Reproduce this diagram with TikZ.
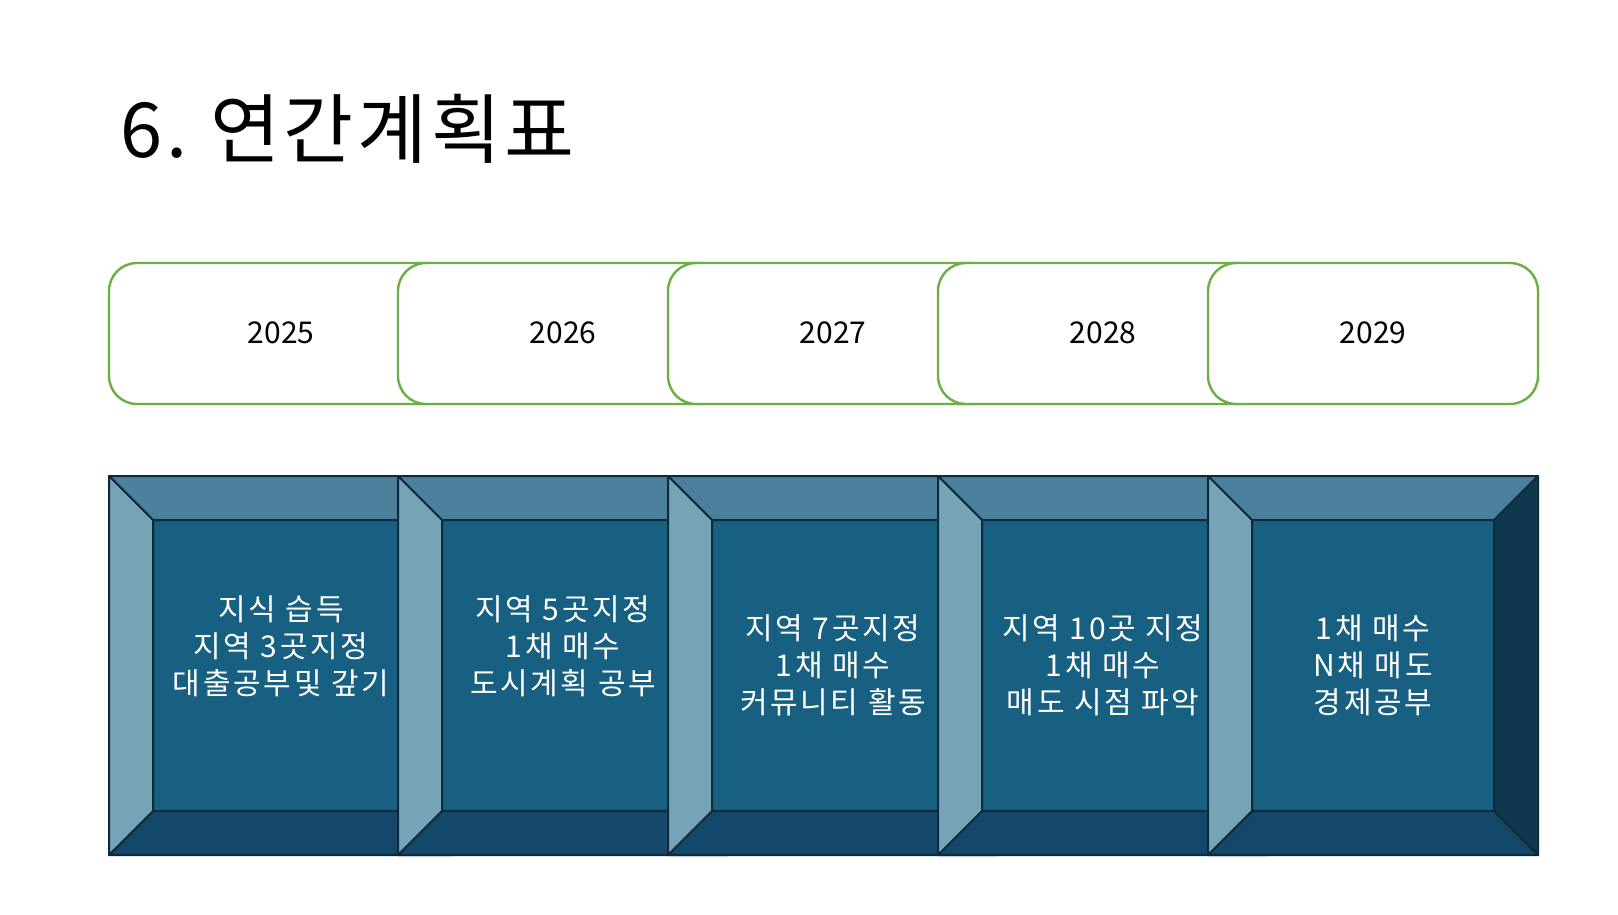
\documentclass[tikz,border=0pt]{standalone}
\usepackage{fontspec}
\setmainfont{Noto Sans CJK KR}
\newfontfamily\bodyfont[LetterSpace=9]{Noto Sans CJK KR}
\newfontfamily\titlefont[LetterSpace=5]{Noto Sans CJK KR}
\definecolor{grn}{HTML}{6AAE45}
\definecolor{face}{HTML}{176082}
\definecolor{btop}{HTML}{4A809C}
\definecolor{bleft}{HTML}{77A3B6}
\definecolor{bbot}{HTML}{14486A}
\definecolor{bright}{HTML}{0D384E}
\definecolor{bline}{HTML}{0B2A3A}
\tikzset{
  yearbox/.style={draw=grn, line width=2.4pt, fill=white, rounded corners=28pt},
  yeartext/.style={font=\fontsize{30}{36}\selectfont, text=black},
  bevline/.style={draw=bline, line width=2pt, line join=round},
  bodytext/.style={font=\bodyfont\fontsize{30}{37}\selectfont, text=white, align=center},
}
\newcommand{\yearbox}[4]{% name, left, right, label
  \draw[yearbox] (#2,263) rectangle (#3,404);
  \node[yeartext] (#1) at ({(#2+#3)/2},333) {#4};
}
\newcommand{\bevbox}[5]{% name, left, right, textY, text
  \pgfmathsetmacro{\il}{#2+44}\pgfmathsetmacro{\ir}{#3-44}
  \fill[face] (\il,520) rectangle (\ir,811);
  \draw[bevline, fill=btop] (#2,476) -- (#3,476) -- (\ir,520) -- (\il,520) -- cycle;
  \draw[bevline, fill=bbot] (#2,855) -- (#3,855) -- (\ir,811) -- (\il,811) -- cycle;
  \draw[bevline, fill=bleft] (#2,476) -- (#2,855) -- (\il,811) -- (\il,520) -- cycle;
  \draw[bevline] (\il,520) rectangle (\ir,811);
  \node[bodytext] (#1) at ({(#2+#3)/2},#4) {#5};
}
\begin{document}
\begin{tikzpicture}[x=1pt,y=-1pt]
\useasboundingbox[fill=white] (0,0) rectangle (1618,914);
\node[anchor=west, font=\titlefont\fontsize{76}{80}\selectfont, inner sep=0pt] (title) at (120,129) {6.\hspace{0.3em}연간계획표};
\yearbox{y1}{109}{453}{2025}
\yearbox{y2}{398}{728}{2026}
\yearbox{y3}{668}{998}{2027}
\yearbox{y4}{938}{1268}{2028}
\yearbox{y5}{1208}{1538}{2029}
\bevbox{t1}{109}{453}{646}{지식 습득\\지역 3곳지정\\대출공부및 갚기}
\bevbox{t2}{398}{728}{646}{지역 5곳지정\\1채 매수\\도시계획 공부}
\bevbox{t3}{668}{998}{665}{지역 7곳지정\\1채 매수\\커뮤니티 활동}
\bevbox{t4}{938}{1268}{665}{지역 10곳 지정\\1채 매수\\매도 시점 파악}
\draw[bevline, fill=bright] (1538,476) -- (1538,855) -- (1494,811) -- (1494,520) -- cycle;
\bevbox{t5}{1208}{1538}{665}{1채 매수\\N채 매도\\경제공부}
\end{tikzpicture}
\end{document}
